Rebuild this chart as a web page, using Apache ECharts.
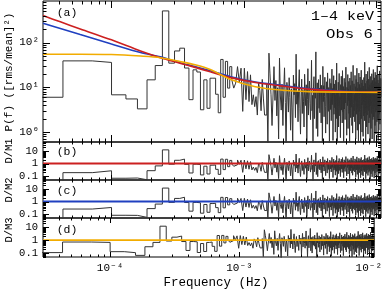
<!DOCTYPE html>
<html><head><meta charset="utf-8">
<script src="https://cdn.jsdelivr.net/npm/echarts@6/dist/echarts.min.js"></script>
<style>html,body{margin:0;padding:0;background:#fff}#c{width:385px;height:291px}</style>
</head><body><div id="c"></div>
<script>
// ---- data -----------------------------------------------------------
const DF = 2.86e-5;            // frequency resolution of periodogram (Hz)
const XMIN = 3.03e-5, XMAX = 1.1e-2;
// periodogram power, bins k = 1..60 (read individually)
const POWER_LOW = [6.0, 39, 36, 6.8, 5.5, 3.3, 14.7, 30.7, 510, 34.7,
  65, 75, 27, 5.3, 24.6, 22, 3.15, 14.7, 3.4, 16,
  16, 7, 2.7, 42, 6, 38, 9.6, 29, 14.7, 9.6,
  12.4, 29, 13, 26.8, 2.9, 26.8, 5.3, 22.5, 4.8, 19,
  4.1, 6.8, 3.7, 6.2, 2.4, 12.4, 8.5, 3.0, 15, 5.5,
  2.4, 2.4, 12.4, 0.5, 58, 20, 6.8, 1.4, 1.5, 29];
// bins k = 61..384 (dense region, estimated)
const POWER_HIGH = [
  5.1, 14.2, 2.3, 9.8, 0.7, 45, 6.4, 3.1, 11.7, 1.4, 8.2, 27.3, 4.6, 0.3, 12.9, 7.5, 2.8, 16.4, 5.9, 1.1,
  9.3, 3.6, 0.5, 18.7, 6.8, 12.1, 2.1, 55, 4.2, 7.9, 1.7, 10.6, 24.8, 3.3, 0.9, 6.1, 15.2, 2.6, 8.8, 4.9,
  1.3, 19.6, 7.2, 3.9, 11.4, 0.6, 5.4, 26.1, 2.4, 9.1, 13.8, 4.4, 1.9, 7.0, 40.2, 3.0, 6.6, 0.4, 10.2, 17.3,
  2.0, 8.5, 5.7, 62, 1.2, 4.0, 12.6, 0.8, 6.9, 14.9, 3.4, 9.6, 2.7, 19.0, 5.2, 1.6, 11.1, 7.7, 0.35, 29.4,
  4.8, 10.9, 2.2, 6.3, 16.8, 3.7, 0.95, 8.0, 13.3, 5.5, 1.5, 21.0, 7.4, 2.9, 9.9, 4.3, 0.55, 15.6, 6.0, 3.2,
  12.3, 1.8, 7.1, 25.5, 4.1, 9.4, 0.65, 5.8, 18.2, 2.5, 11.9, 3.5, 6.7, 1.0, 14.4, 8.6, 2.0, 34.8, 5.0, 0.45,
  7.6, 3.8, 13.0, 1.3, 9.0, 20.4, 4.7, 2.3, 6.2, 0.75, 11.5, 5.3, 17.7, 3.1, 8.3, 1.6, 23.6, 6.5, 2.8, 10.4,
  0.6, 5.6, 15.9, 3.3, 8.9, 1.9, 12.8, 4.5, 28.2, 7.3, 2.4, 0.85, 10.0, 6.4, 3.9, 19.3, 1.2, 9.2, 5.1, 13.6,
  2.6, 7.8, 0.5, 16.1, 4.0, 11.0, 2.1, 6.0, 22.2, 3.6, 8.7, 1.4, 14.0, 5.7, 0.95, 9.7, 31.0, 4.4, 2.2, 7.0,
  12.0, 3.0, 6.9, 1.7, 18.5, 5.0, 10.3, 0.7, 4.2, 15.0, 7.9, 2.5, 26.7, 6.1, 1.1, 9.5, 3.4, 13.1, 5.4, 0.4,
  8.1, 20.8, 2.9, 6.6, 11.6, 1.5, 4.6, 17.0, 3.2, 0.6, 9.8, 7.2, 24.1, 2.0, 5.9, 12.5, 1.0, 8.4, 4.1, 14.7,
  3.7, 0.8, 10.7, 6.3, 2.3, 16.6, 5.2, 9.0, 1.8, 36.5, 4.9, 7.5, 2.7, 12.2, 0.5, 6.8, 19.8, 3.5, 8.9, 1.3,
  5.5, 13.9, 2.4, 7.7, 22.7, 4.3, 0.9, 10.1, 6.0, 3.0, 15.3, 1.6, 8.6, 27.9, 4.8, 2.1, 11.3, 6.5, 0.45, 9.3,
  3.9, 17.5, 7.0, 1.2, 12.7, 5.1, 2.6, 20.1, 8.2, 0.7, 4.5, 14.3, 6.2, 1.9, 10.5, 3.3, 25.0, 7.6, 2.2, 5.8,
  11.8, 0.55, 6.7, 16.3, 3.6, 9.1, 1.4, 21.7, 4.7, 8.0, 2.8, 13.4, 0.9, 5.3, 18.9, 7.3, 3.1, 10.8, 1.7, 6.4,
  30.3, 4.0, 2.0, 9.6, 14.6, 5.6, 0.65, 7.8, 12.4, 3.4, 1.1, 19.1, 6.9, 2.5, 8.8, 23.3, 4.4, 1.5, 11.2, 5.0,
  7.4, 2.9, 15.8, 6.1];
// model curves
const MODEL_FREQ   = [3.03e-5, 4.1e-5, 5.8e-5, 1e-4, 1.66e-4, 2.35e-4, 3.3e-4, 4.3e-4, 5.6e-4, 8e-4, 1.23e-3, 1.9e-3, 3.1e-3, 5.6e-3, 1.1e-2];
const MODEL_RED    = [401, 291, 202, 115, 65, 46, 34.7, 27.9, 22.2, 16.5, 12.8, 10.8, 9.1, 8.06, 7.8];
const MODEL_BLUE   = [271, 207, 151, 93, 60, 48, 35.5, 29, 23.5, 17.2, 13.2, 11.2, 9.35, 8.2, 7.8];
const MODEL_ORANGE = [55, 55, 55, 54, 50, 46, 37.7, 31.8, 25, 15, 10.3, 8.7, 8.0, 7.8, 7.7];
// tick labels
const X_LABELS = {'-4': '10\u207B\u2074', '-3': '10\u207B\u00B3', '-2': '10\u207B\u00B2'};
const YA_LABELS = {'0': '10\u2070', '1': '10\u00B9', '2': '10\u00B2'};
const YR_LABELS = {'-1': '0.1', '0': '1', '1': '10'};
const MANTISSAS = [1, 2, 3, 4, 5, 6, 7, 8, 9];

// ---- build ----------------------------------------------------------
const POWER = POWER_LOW.concat(POWER_HIGH);
const FREQ = POWER.map((_, i) => (i + 1) * DF);
function steps(vals) {
  const out = [];
  vals.forEach((v, i) => { out.push([FREQ[i] - DF / 2, v], [FREQ[i] + DF / 2, v]); });
  return out;
}
function modelAt(mv, f) {
  const lf = Math.log10(f);
  const lx = MODEL_FREQ.map(Math.log10);
  if (lf <= lx[0]) return mv[0];
  for (let i = 1; i < lx.length; i++) {
    if (lf <= lx[i]) {
      const t = (lf - lx[i - 1]) / (lx[i] - lx[i - 1]);
      return Math.pow(10, Math.log10(mv[i - 1]) * (1 - t) + Math.log10(mv[i]) * t);
    }
  }
  return mv[mv.length - 1];
}
const ratio = mv => POWER.map((p, i) => p / modelAt(mv, FREQ[i]));
const modelLine = mv => MODEL_FREQ.map((f, i) => [f, mv[i]]);

const FONT = '"Liberation Mono", monospace';
const C_RED = '#cc2020', C_BLUE = '#2040c0', C_ORANGE = '#f2ac00', C_DATA = '#333';

function decadeLabel(map) {
  return v => { const e = Math.log10(v); const r = Math.round(e); return Math.abs(e - r) < 1e-6 && map[String(r)] !== undefined ? map[String(r)] : ''; };
}
function tickVals(lo, hi, e0, e1) {
  const out = [];
  for (let e = e0; e <= e1; e++) MANTISSAS.forEach(m => { const v = m * Math.pow(10, e); if (v >= lo * 0.999 && v <= hi * 1.001) out.push([v, m === 1 ? 1 : 0]); });
  return out;
}
const X_TICKS = tickVals(XMIN, XMAX, -5, -2);

const grids = [
  {top: 1, height: 141, ymin: 0.6, ymax: 850},
  {top: 142, height: 38, ymin: 0.05, ymax: 50},
  {top: 180, height: 38, ymin: 0.05, ymax: 50},
  {top: 218, height: 39, ymin: 0.05, ymax: 50}
];

function tickSeries(gi, xMaj, xMin, yMaj, yMin) {
  const g = grids[gi];
  const data = [];
  X_TICKS.forEach(t => data.push([t[0], 1, 0, t[1]]));
  tickVals(g.ymin, g.ymax, -2, 2).forEach(t => data.push([1e-3, t[0], 1, t[1]]));
  return {
    type: 'custom', xAxisIndex: gi, yAxisIndex: gi, silent: true, clip: false, z: 10,
    data: data,
    renderItem: (params, api) => {
      const cs = params.coordSys;
      const type = api.value(2), major = api.value(3);
      const st = {stroke: '#000', lineWidth: 1};
      if (type === 0) {
        const L = major ? xMaj : xMin;
        const px = Math.round(api.coord([api.value(0), 1])[0]) + 0.5;
        const yb = cs.y + cs.height, yt = cs.y;
        return {type: 'group', children: [
          {type: 'line', shape: {x1: px, y1: yb, x2: px, y2: yb - L}, style: st},
          {type: 'line', shape: {x1: px, y1: yt, x2: px, y2: yt + L}, style: st}]};
      } else {
        const L = major ? yMaj : yMin;
        const py = Math.round(api.coord([1e-3, api.value(1)])[1]) + 0.5;
        const xl = cs.x, xr = cs.x + cs.width;
        return {type: 'group', children: [
          {type: 'line', shape: {x1: xl, y1: py, x2: xl + L, y2: py}, style: st},
          {type: 'line', shape: {x1: xr, y1: py, x2: xr - L, y2: py}, style: st}]};
      }
    }
  };
}

const xAxes = grids.map((g, i) => ({
  type: 'log', logBase: 10, gridIndex: i, min: XMIN, max: XMAX,
  axisLine: {show: false}, axisTick: {show: false}, splitLine: {show: false},
  axisLabel: i === 3 ? {show: true, fontFamily: FONT, fontSize: 11, color: '#000', margin: 6, formatter: decadeLabel(X_LABELS)} : {show: false}
}));
const yAxes = grids.map((g, i) => ({
  type: 'log', logBase: 10, gridIndex: i, min: g.ymin, max: g.ymax,
  axisLine: {show: false}, axisTick: {show: false}, splitLine: {show: false},
  axisLabel: i === 0
    ? {fontFamily: FONT, fontSize: 11, color: '#000', margin: 4, formatter: decadeLabel(YA_LABELS)}
    : {fontFamily: FONT, fontSize: 10.5, color: '#000', margin: 5, formatter: decadeLabel(YR_LABELS)}
}));

const lineBase = {type: 'line', showSymbol: false, symbol: 'none', animation: false};
const series = [
  Object.assign({}, lineBase, {xAxisIndex: 0, yAxisIndex: 0, data: steps(POWER), lineStyle: {color: C_DATA, width: 1}}),
  Object.assign({}, lineBase, {xAxisIndex: 0, yAxisIndex: 0, data: modelLine(MODEL_BLUE), smooth: 0.3, lineStyle: {color: C_BLUE, width: 1.6}}),
  Object.assign({}, lineBase, {xAxisIndex: 0, yAxisIndex: 0, data: modelLine(MODEL_RED), smooth: 0.3, lineStyle: {color: C_RED, width: 1.6}}),
  Object.assign({}, lineBase, {xAxisIndex: 0, yAxisIndex: 0, data: modelLine(MODEL_ORANGE), smooth: 0.3, lineStyle: {color: C_ORANGE, width: 1.6}}),
];
[[MODEL_RED, C_RED], [MODEL_BLUE, C_BLUE], [MODEL_ORANGE, C_ORANGE]].forEach((m, j) => {
  const gi = j + 1;
  series.push(Object.assign({}, lineBase, {xAxisIndex: gi, yAxisIndex: gi, data: steps(ratio(m[0])), lineStyle: {color: C_DATA, width: 1}}));
  series.push(Object.assign({}, lineBase, {xAxisIndex: gi, yAxisIndex: gi, data: [[XMIN, 1], [XMAX, 1]], lineStyle: {color: m[1], width: 1.8}, z: 3}));
});
series.push(tickSeries(0, 7, 3.5, 7, 3.5));
series.push(tickSeries(1, 5, 2.5, 6, 3));
series.push(tickSeries(2, 5, 2.5, 6, 3));
series.push(tickSeries(3, 5, 2.5, 6, 3));

function txt(x, y, text, size, opts) {
  return Object.assign({type: 'text', x: x, y: y, silent: true, z: 20, style: Object.assign({
    text: text, font: size + 'px ' + FONT, fill: '#000',
    align: 'center', verticalAlign: 'middle', textAlign: 'center', textVerticalAlign: 'middle'}, (opts && opts.style) || {})},
    opts && opts.el || {});
}
const RIGHT = {align: 'right', textAlign: 'right'};
const graphic = [
  txt(67, 13, '(a)', 11.5),
  txt(67, 152, '(b)', 11.5),
  txt(67, 191, '(c)', 11.5),
  txt(67, 230, '(d)', 11.5),
  txt(374, 17, '1\u20134 keV', 12.5, {style: RIGHT, el: {scaleX: 1.2}}),
  txt(373, 35, 'Obs 6', 12.5, {style: RIGHT, el: {scaleX: 1.25}}),
  txt(9, 72, 'P(f) ([rms/mean]\u00B2)', 11, {el: {rotation: Math.PI / 2}}),
  txt(9, 151, 'D/M1', 10.5, {el: {rotation: Math.PI / 2}}),
  txt(9, 190, 'D/M2', 10.5, {el: {rotation: Math.PI / 2}}),
  txt(9, 230, 'D/M3', 10.5, {el: {rotation: Math.PI / 2}}),
  txt(216, 283, 'Frequency (Hz)', 12.5)
];

const chart = echarts.init(document.getElementById('c'), null, {renderer: 'canvas'});
chart.setOption({
  animation: false,
  backgroundColor: '#fff',
  grid: grids.map(g => ({left: 43, right: 4, top: g.top, height: g.height, show: true, borderColor: '#000', borderWidth: 1, backgroundColor: 'transparent', containLabel: false})),
  xAxis: xAxes,
  yAxis: yAxes,
  series: series,
  graphic: graphic
});
</script></body></html>
